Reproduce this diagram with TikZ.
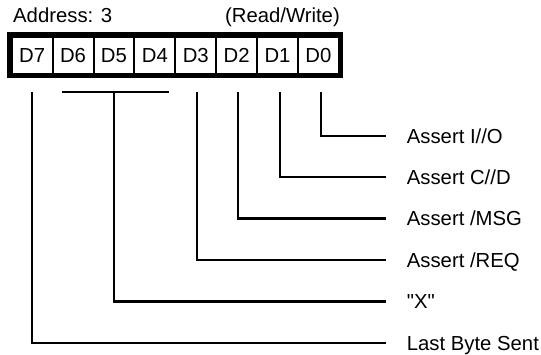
\documentclass[tikz,border=0pt]{standalone}
\usepackage{fontspec}
\setmainfont{Liberation Sans}
\usetikzlibrary{positioning}
\tikzset{
  bitcell/.style={draw, line width=2pt, minimum width=40.9pt, minimum height=37.3pt,
    inner sep=0pt, outer sep=0pt, font=\fontsize{20.3}{24}\selectfont},
  siglabel/.style={anchor=west, inner sep=0pt, text height=14.4pt, text depth=0pt,
    yshift=-2pt, font=\fontsize{20.3}{24}\selectfont},
  headlabel/.style={inner sep=0pt, font=\fontsize{20.3}{24}\selectfont},
  wire/.style={line width=2.2pt}
}
\begin{document}
\begin{tikzpicture}[x=1pt,y=-1pt]
				\useasboundingbox (0,0) rectangle (541,355);
				%-- register
				\node[headlabel, anchor=base west] (addr) at (13,22.7) {Address: 3};
				\node[headlabel, anchor=base east] (rw) at (340,22.7) {(Read/Write)};
				\node[bitcell] (d7) at (32.15,55.35) {D7};
				\node[bitcell, right=0pt of d7] (d6) {D6};
				\node[bitcell, right=0pt of d6] (d5) {D5};
				\node[bitcell, right=0pt of d5] (d4) {D4};
				\node[bitcell, right=0pt of d4] (d3) {D3};
				\node[bitcell, right=0pt of d3] (d2) {D2};
				\node[bitcell, right=0pt of d2] (d1) {D1};
				\node[bitcell, right=0pt of d1] (d0) {D0};
				\draw[line width=4.4pt] ([shift={(-2.2,-2.2)}]d7.north west) rectangle ([shift={(2.2,2.2)}]d0.south east);
				%-- signal names
				\node[siglabel] (io) at (406.7,134) {Assert I//O};
				\node[siglabel] (cd) at (406.7,175) {Assert C//D};
				\node[siglabel] (msg) at (406.7,216.5) {Assert /MSG};
				\node[siglabel] (req) at (406.7,258) {Assert /REQ};
				\node[siglabel] (x) at (406.7,299.5) {\textquotedbl X\textquotedbl};
				\node[siglabel] (last) at (406.7,341) {Last Byte Sent};
				%-- taps below the bits
				\coordinate (t0) at (321.3,91.7);
				\coordinate (t1) at (280,91.7);
				\coordinate (t2) at (238.3,91.7);
				\coordinate (t3) at (197,91.7);
				\coordinate (tx) at (114.3,92.3);
				\coordinate (b6) at (62.3,92.3);
				\coordinate (b4) at (169,92.3);
				\coordinate (t7) at (31.7,91.7);
				%--
				\draw[wire] (b6) -- (b4);
				\draw[wire] (t0) |- ([xshift=-21pt]io.west);
				\draw[wire] (t1) |- ([xshift=-21pt]cd.west);
				\draw[wire] (t2) |- ([xshift=-21pt]msg.west);
				\draw[wire] (t3) |- ([xshift=-21pt]req.west);
				\draw[wire] (tx) |- ([xshift=-21pt]x.west);
				\draw[wire] (t7) |- ([xshift=-21pt]last.west);
			\end{tikzpicture}
\end{document}
